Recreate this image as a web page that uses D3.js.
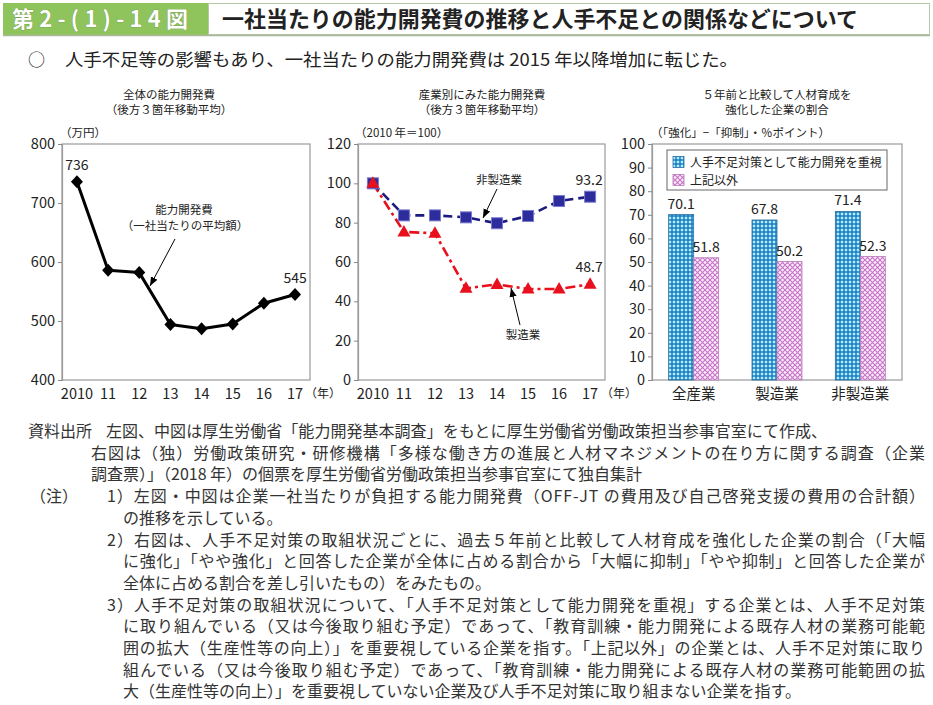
<!DOCTYPE html>
<html><head><meta charset="utf-8">
<script src="https://cdn.jsdelivr.net/npm/d3@7/dist/d3.min.js"></script>
<style>
html,body{margin:0;padding:0;background:#fff;}
svg text{font-family:"Noto Sans CJK JP","Noto Sans",sans-serif;fill:#222;}
</style></head>
<body>
<svg id="c" width="933" height="705"></svg>
<script>
// ---------------- data ----------------
const figNo = "第2-(1)-14図";
const figTitle = "一社当たりの能力開発費の推移と人手不足との関係などについて";
const lead = "人手不足等の影響もあり、一社当たりの能力開発費は 2015 年以降増加に転じた。";

const years = ["2010","11","12","13","14","15","16","17"];
const totalCost = [736, 586, 582, 494, 487, 495, 530, 545];
const leftTicks = [400, 500, 600, 700, 800];

const nonManuf = [100, 83.7, 83.7, 82.7, 79.7, 83.4, 91.0, 93.2];
const manuf = [100, 75.3, 74.6, 46.6, 48.6, 46.3, 46.3, 48.7];
const midTicks = [0, 20, 40, 60, 80, 100, 120];

const barCats = ["全産業", "製造業", "非製造業"];
const emphasis = [70.1, 67.8, 71.4];
const others = [51.8, 50.2, 52.3];
const barSeries = ["人手不足対策として能力開発を重視", "上記以外"];
const rightTicks = [0,10,20,30,40,50,60,70,80,90,100];

const notes = [
  {x:28, t:"資料出所"},
  {x:106, t:"左図、中図は厚生労働省「能力開発基本調査」をもとに厚生労働省労働政策担当参事官室にて作成、", e:827},
  {x:91, t:"右図は（独）労働政策研究・研修機構「多様な働き方の進展と人材マネジメントの在り方に関する調査（企業", e:925},
  {x:91, t:"調査票）」（2018 年）の個票を厚生労働省労働政策担当参事官室にて独自集計"},
  {x:30, t:"（注）"},
  {x:107, t:"1）左図・中図は企業一社当たりが負担する能力開発費（OFF-JT の費用及び自己啓発支援の費用の合計額）", e:925},
  {x:123, t:"の推移を示している。"},
  {x:107, t:"2）右図は、人手不足対策の取組状況ごとに、過去５年前と比較して人材育成を強化した企業の割合（「大幅", e:925},
  {x:123, t:"に強化」「やや強化」と回答した企業が全体に占める割合から「大幅に抑制」「やや抑制」と回答した企業が", e:925},
  {x:123, t:"全体に占める割合を差し引いたもの）をみたもの。"},
  {x:107, t:"3）人手不足対策の取組状況について、「人手不足対策として能力開発を重視」する企業とは、人手不足対策", e:925},
  {x:123, t:"に取り組んでいる（又は今後取り組む予定）であって、「教育訓練・能力開発による既存人材の業務可能範", e:925},
  {x:123, t:"囲の拡大（生産性等の向上）」を重要視している企業を指す。「上記以外」の企業とは、人手不足対策に取り", e:925},
  {x:123, t:"組んでいる（又は今後取り組む予定）であって、「教育訓練・能力開発による既存人材の業務可能範囲の拡", e:925},
  {x:123, t:"大（生産性等の向上）」を重要視していない企業及び人手不足対策に取り組まない企業を指す。"}
];
const noteRows = [0,0,1,2,3,3,4,5,6,7,8,9,10,11,12];

// ---------------- drawing ----------------
const svg = d3.select("#c");
const defs = svg.append("defs");

// patterns
const pb = defs.append("pattern").attr("id","pBlue").attr("patternUnits","userSpaceOnUse").attr("width",4).attr("height",4);
pb.append("rect").attr("width",4).attr("height",4).attr("fill","#2f95d2");
pb.append("circle").attr("cx",2).attr("cy",2).attr("r",1.25).attr("fill","#b8ecfa");
[[0,0],[4,4],[4,0],[0,4]].forEach(p=>pb.append("circle").attr("cx",p[0]).attr("cy",p[1]).attr("r",0.8).attr("fill","#1a62a0"));
const pp = defs.append("pattern").attr("id","pPink").attr("patternUnits","userSpaceOnUse").attr("width",5).attr("height",5);
pp.append("rect").attr("width",5).attr("height",5).attr("fill","#fbeefb");
pp.append("path").attr("d","M0,0L5,5M5,0L0,5").attr("stroke","#c773c7").attr("stroke-width",1.1);

// arrow marker
defs.append("marker").attr("id","arr").attr("viewBox","0 0 10 10").attr("refX",10).attr("refY",5)
  .attr("markerWidth",9).attr("markerHeight",9).attr("markerUnits","userSpaceOnUse").attr("orient","auto")
  .append("path").attr("d","M0,1L10,5L0,9Z").attr("fill","#000");

// header
svg.append("rect").attr("x",3).attr("y",3).attr("width",205).attr("height",32).attr("fill","#8fc45d");
svg.append("rect").attr("x",208.5).attr("y",3.5).attr("width",721).attr("height",31).attr("fill","#fff").attr("stroke","#b9c9a8");
svg.append("line").attr("x1",3).attr("x2",930).attr("y1",35.5).attr("y2",35.5).attr("stroke","#a9b79b").attr("stroke-width",1.5);
svg.append("text").attr("x",12).attr("y",27).attr("font-size",22).attr("font-weight",700)
  .style("fill","#fff").attr("stroke","#6b8f48").attr("stroke-width",0.6).attr("paint-order","stroke")
  .attr("textLength",176).attr("lengthAdjust","spacing").text(figNo);
svg.append("text").attr("x",222).attr("y",27).attr("font-size",22).attr("font-weight",700)
  .attr("textLength",636).attr("lengthAdjust","spacingAndGlyphs").text(figTitle);

// lead
svg.append("text").attr("x",28).attr("y",66).attr("font-size",17).text("○");
svg.append("text").attr("x",65).attr("y",66).attr("font-size",17)
  .attr("textLength",673).attr("lengthAdjust","spacingAndGlyphs").text(lead);

function frame(x0,x1,y0,y1){
  svg.append("rect").attr("x",x0).attr("y",y0).attr("width",x1-x0).attr("height",y1-y0)
    .attr("fill","none").attr("stroke","#9a9a9a").attr("stroke-width",1.2);
}
function yAxis(scale, ticks, x){
  const g = svg.append("g").attr("transform",`translate(${x},0)`)
    .call(d3.axisLeft(scale).tickValues(ticks).tickSize(4).tickPadding(3));
  g.select(".domain").attr("stroke","#9a9a9a").attr("stroke-width",1.2);
  g.selectAll(".tick line").attr("stroke","#888");
  g.selectAll(".tick text").attr("font-size",14.5).attr("font-family","Noto Sans CJK JP").style("fill","#222");
  return g;
}
function xLabels(scale, y){
  svg.append("g").selectAll("text").data(years).join("text")
    .attr("x",d=>scale(d)).attr("y",y).attr("text-anchor","middle").attr("font-size",14.5).text(d=>d);
}
function title2(cx, l1, l2){
  svg.append("text").attr("x",cx).attr("y",99).attr("text-anchor","middle").attr("font-size",11.5).text(l1);
  svg.append("text").attr("x",cx).attr("y",114).attr("text-anchor","middle").attr("font-size",11.5).text(l2);
}

// ---------- left chart ----------
const L = {x0:62, x1:310, y0:144, y1:380};
const xl = d3.scalePoint().domain(years).range([L.x0,L.x1]).padding(0.48);
const yl = d3.scaleLinear().domain([400,800]).range([L.y1,L.y0]);
title2(169,"全体の能力開発費","（後方３箇年移動平均）");
svg.append("text").attr("x",60).attr("y",137).attr("font-size",11.5).text("（万円）");
frame(L.x0,L.x1,L.y0,L.y1);
yAxis(yl,leftTicks,L.x0);
xLabels(xl,399);
svg.append("text").attr("x",305).attr("y",398).attr("font-size",12).text("（年）");
svg.append("path").datum(totalCost)
  .attr("d",d3.line().x((d,i)=>xl(years[i])).y(d=>yl(d)))
  .attr("fill","none").attr("stroke","#000").attr("stroke-width",3).attr("stroke-linejoin","round");
svg.append("g").selectAll("path").data(totalCost).join("path")
  .attr("transform",(d,i)=>`translate(${xl(years[i])},${yl(d)})`)
  .attr("d","M0,-6.5L6,0L0,6.5L-6,0Z").attr("fill","#000");
svg.append("text").attr("x",xl(years[0])).attr("y",yl(totalCost[0])-12).attr("text-anchor","middle").attr("font-size",14).text(totalCost[0]);
svg.append("text").attr("x",xl(years[7])).attr("y",yl(totalCost[7])-11).attr("text-anchor","middle").attr("font-size",14).text(totalCost[7]);
svg.append("text").attr("x",184).attr("y",214).attr("text-anchor","middle").attr("font-size",11.5).text("能力開発費");
svg.append("text").attr("x",185).attr("y",230).attr("text-anchor","middle").attr("font-size",11.5).text("（一社当たりの平均額）");
svg.append("line").attr("x1",175).attr("y1",239).attr("x2",150).attr("y2",286)
  .attr("stroke","#000").attr("stroke-width",1).attr("marker-end","url(#arr)");

// ---------- middle chart ----------
const M = {x0:358, x1:605, y0:144, y1:380};
const xm = d3.scalePoint().domain(years).range([M.x0,M.x1]).padding(0.48);
const ym = d3.scaleLinear().domain([0,120]).range([M.y1,M.y0]);
title2(482,"産業別にみた能力開発費","（後方３箇年移動平均）");
svg.append("text").attr("x",355).attr("y",137).attr("font-size",11.5).text("（2010 年＝100）");
frame(M.x0,M.x1,M.y0,M.y1);
yAxis(ym,midTicks,M.x0);
xLabels(xm,399);
svg.append("text").attr("x",601).attr("y",398).attr("font-size",12).text("（年）");
const lineM = d3.line().x((d,i)=>xm(years[i])).y(d=>ym(d));
svg.append("path").datum(manuf).attr("d",lineM).attr("fill","none").attr("stroke","#e8101c")
  .attr("stroke-width",2.6).attr("stroke-dasharray","10,4,3,4");
svg.append("path").datum(nonManuf).attr("d",lineM).attr("fill","none").attr("stroke","#1b1b80")
  .attr("stroke-width",2.6).attr("stroke-dasharray","9,5");
svg.append("g").selectAll("rect").data(nonManuf).join("rect")
  .attr("x",(d,i)=>xm(years[i])-5.5).attr("y",d=>ym(d)-5.5).attr("width",11).attr("height",11)
  .attr("fill","#2c2c9c").attr("stroke","#7a7ad0").attr("stroke-width",1);
svg.append("g").selectAll("path").data(manuf).join("path")
  .attr("transform",(d,i)=>`translate(${xm(years[i])},${ym(d)})`)
  .attr("d","M0,-7L6.5,4.5L-6.5,4.5Z").attr("fill","#e8101c");
svg.append("text").attr("x",xm(years[7])-1).attr("y",ym(nonManuf[7])-12).attr("text-anchor","middle").attr("font-size",14).text(nonManuf[7].toFixed(1));
svg.append("text").attr("x",xm(years[7])-1).attr("y",ym(manuf[7])-12).attr("text-anchor","middle").attr("font-size",14).text(manuf[7].toFixed(1));
svg.append("text").attr("x",499).attr("y",184).attr("text-anchor","middle").attr("font-size",11.5).text("非製造業");
svg.append("line").attr("x1",497).attr("y1",189).attr("x2",483).attr("y2",218)
  .attr("stroke","#000").attr("stroke-width",1).attr("marker-end","url(#arr)");
svg.append("text").attr("x",523).attr("y",339).attr("text-anchor","middle").attr("font-size",11.5).text("製造業");
svg.append("line").attr("x1",520).attr("y1",325).attr("x2",511).attr("y2",288)
  .attr("stroke","#000").attr("stroke-width",1).attr("marker-end","url(#arr)");

// ---------- right chart ----------
const R = {x0:652, x1:902, y0:144, y1:380};
const xr = d3.scaleBand().domain(barCats).range([R.x0,R.x1]).paddingInner(0.4).paddingOuter(0.2);
const xs = d3.scaleBand().domain([0,1]).range([0,xr.bandwidth()]);
const yr = d3.scaleLinear().domain([0,100]).range([R.y1,R.y0]);
title2(777,"５年前と比較して人材育成を","強化した企業の割合");
svg.append("text").attr("x",651).attr("y",137).attr("font-size",11.5).text("（「強化」−「抑制」・％ポイント）");
frame(R.x0,R.x1,R.y0,R.y1);
yAxis(yr,rightTicks,R.x0);
const series = [emphasis, others];
const fills = ["url(#pBlue)","url(#pPink)"];
const strokes = ["#2a6f9f","#b77ab7"];
series.forEach((vals,s)=>{
  const g = svg.append("g");
  g.selectAll("rect").data(vals).join("rect")
    .attr("x",(d,i)=>xr(barCats[i])+xs(s)).attr("y",d=>yr(d))
    .attr("width",xs.bandwidth()).attr("height",d=>yr(0)-yr(d))
    .attr("fill",fills[s]).attr("stroke",strokes[s]).attr("stroke-width",0.8);
  g.selectAll("text").data(vals).join("text")
    .attr("x",(d,i)=>xr(barCats[i])+xs(s)+xs.bandwidth()/2).attr("y",d=>yr(d)-6)
    .attr("text-anchor","middle").attr("font-size",14).text(d=>d.toFixed(1));
});
svg.append("g").selectAll("text").data(barCats).join("text")
  .attr("x",d=>xr(d)+xr.bandwidth()/2).attr("y",399).attr("text-anchor","middle").attr("font-size",14.5).text(d=>d);
// legend
svg.append("rect").attr("x",667).attr("y",150).attr("width",220).attr("height",40)
  .attr("fill","#fff").attr("stroke","#666").attr("stroke-width",1);
barSeries.forEach((n,i)=>{
  const y = 162 + i*18;
  svg.append("rect").attr("x",673).attr("y",y-5.5).attr("width",11).attr("height",11)
    .attr("fill",fills[i]).attr("stroke",strokes[i]).attr("stroke-width",0.8);
  svg.append("text").attr("x",690).attr("y",y+4.5).attr("font-size",12).text(n);
});

// ---------- notes ----------
notes.forEach((n,k)=>{
  const t = svg.append("text").attr("x",n.x).attr("y",437 + noteRows[k]*21.7)
    .attr("font-size",16).style("fill","#333").text(n.t);
  if(n.e) t.attr("textLength",n.e-n.x).attr("lengthAdjust","spacing");
});
</script>
</body></html>
